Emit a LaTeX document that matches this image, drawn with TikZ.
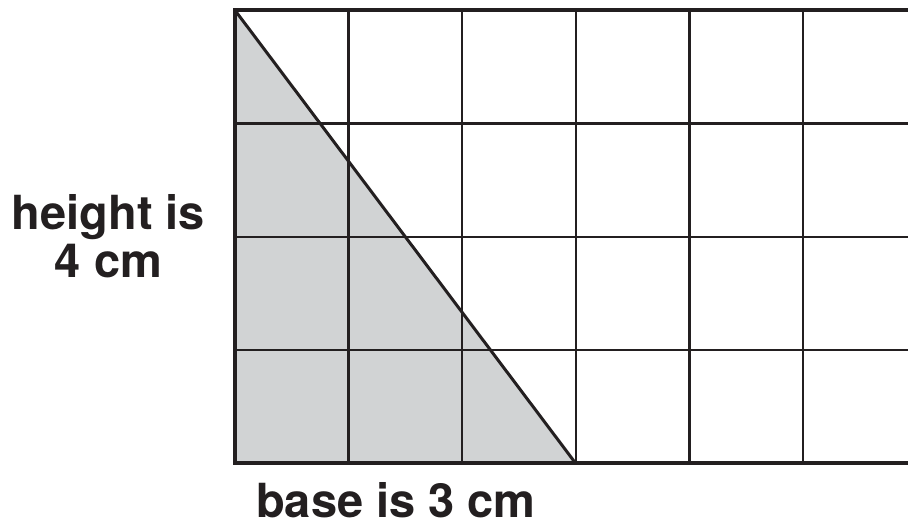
\documentclass[tikz,border=0pt]{standalone}
\usepackage{fontspec}
\setmainfont{TeX Gyre Heros}
\definecolor{ink}{HTML}{231F20}
\definecolor{trifill}{HTML}{D1D3D4}
\begin{document}
\begin{tikzpicture}[x=1pt,y=-1pt,
  thin grid/.style={draw=ink,line width=2.4pt},
  thick edge/.style={draw=ink,line width=4pt},
  hyp/.style={draw=ink,line width=3pt},
  lbl/.style={text=ink,font=\fontsize{47}{48}\selectfont\bfseries,inner sep=0pt,anchor=base}]
\useasboundingbox (0,0) rectangle (908,526);
\coordinate (A) at (235,10.3);
\coordinate (B) at (235,463.5);
\coordinate (C) at (575.8,463.5);
% shaded triangle
\fill[fill=trifill] (A) -- (B) -- (C) -- cycle;
% inner vertical lines
\foreach \x in {348.6,462.2,575.8,689.4,803} {
  \draw[thin grid] (\x,10.3) -- (\x,463.5);
}
% inner horizontal lines
\foreach \y in {123.6,236.9,350.2} {
  \draw[thin grid] (235,\y) -- (910,\y);
}
% outer edges
\draw[thick edge] (910,10.3) -- (A) -- (B) -- (910,463.5);
% hypotenuse
\draw[hyp,line cap=round] (A) -- (C);
% labels
\node[lbl] (h1) at (108.5,230) {height is};
\node[lbl] (h2) at (108.5,278) {4 cm};
\node[lbl] (base) at (396,517) {base is 3 cm};
\end{tikzpicture}
\end{document}
